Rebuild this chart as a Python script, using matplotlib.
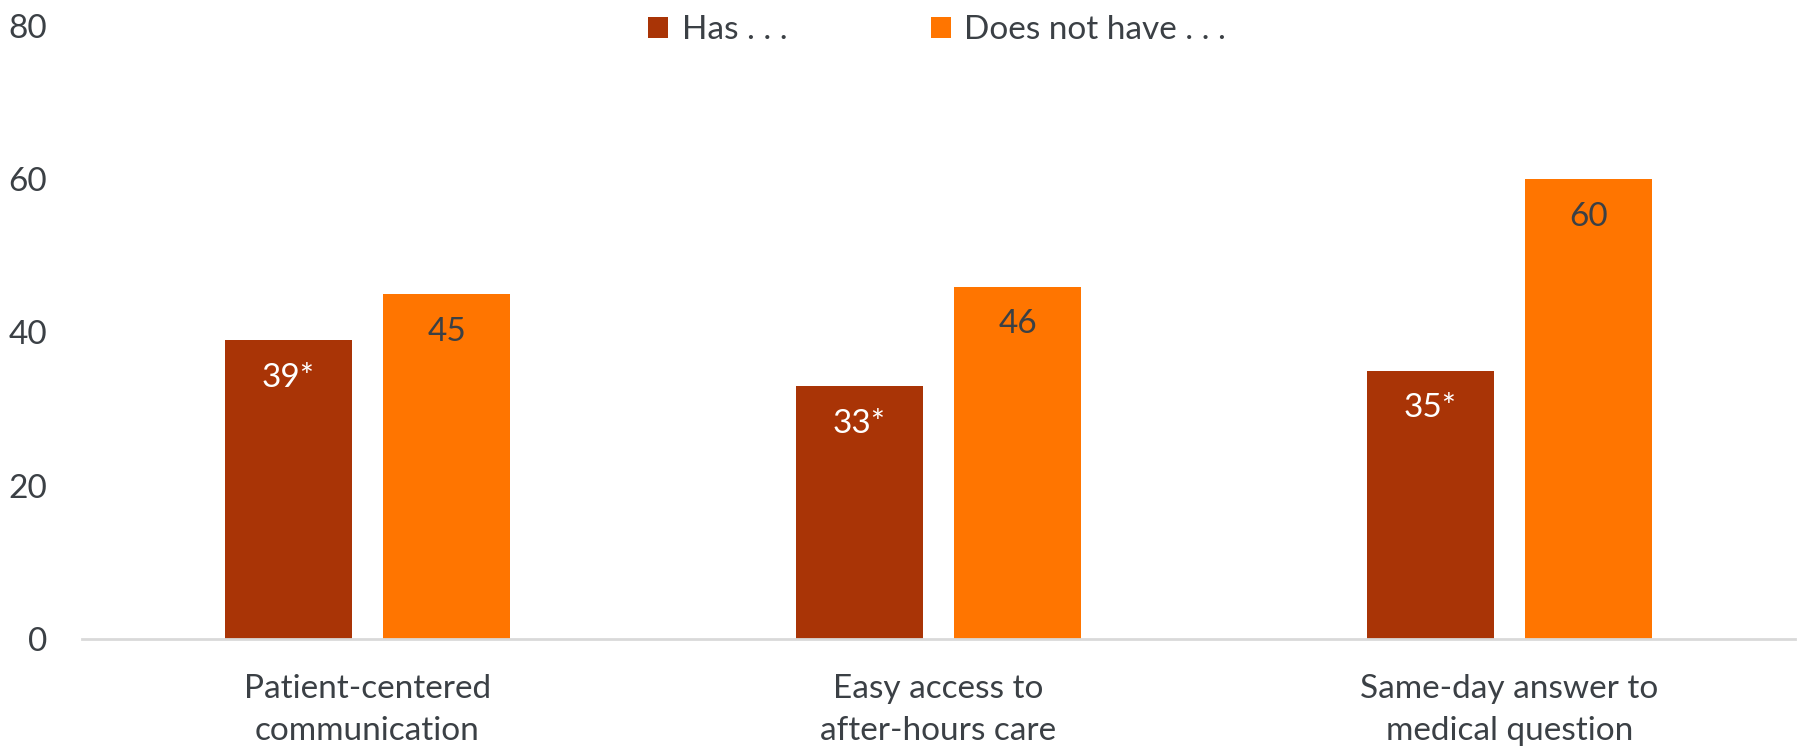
import numpy as np
import matplotlib
matplotlib.use("Agg")
import matplotlib.pyplot as plt

plt.rcParams['font.family'] = ['Lato', 'DejaVu Sans']

categories = ['Patient-centered\ncommunication', 'Easy access to\nafter-hours care',
              'Same-day answer to\nmedical question']
has_values = [39, 33, 35]
has_labels = ['39*', '33*', '35*']
hasnot_values = [45, 46, 60]
hasnot_labels = ['45', '46', '60']
series_names = ['Has . . .', 'Does not have . . .']
yticks = [0, 20, 40, 60, 80]

dark = '#A93406'
orange = '#FF7500'
text_col = '#3B4045'

fig = plt.figure(figsize=(17.97, 7.49), dpi=100)
ax = fig.add_axes([82 / 1797, 110 / 749, 1713 / 1797, 613 / 749])

x = np.arange(len(categories))
width = 0.222
offset = 0.139

b1 = ax.bar(x - offset, has_values, width, color=dark, label=series_names[0])
b2 = ax.bar(x + offset, hasnot_values, width, color=orange, label=series_names[1])

# value labels sit just inside the top of each bar
for bars, labels, col in [(b1, has_labels, 'white'), (b2, hasnot_labels, text_col)]:
    for rect, lab in zip(bars, labels):
        ax.annotate(lab, (rect.get_x() + rect.get_width() / 2, rect.get_height()),
                    xytext=(0, -27), textcoords='offset points',
                    ha='center', va='center', fontsize=24, color=col)

ax.set_xlim(-0.5, len(categories) - 0.5)
ax.set_ylim(0, 80)
ax.set_yticks(yticks)
ax.set_xticks(x)
ax.set_xticklabels(categories, fontsize=24, color=text_col, linespacing=1.52)
ax.tick_params(axis='y', labelsize=24, labelcolor=text_col, length=0, pad=25)
ax.tick_params(axis='x', length=0, pad=25)
for lab in ax.get_yticklabels():
    lab.set_horizontalalignment('right')

for side in ['top', 'right', 'left']:
    ax.spines[side].set_visible(False)
ax.spines['bottom'].set_color('#D9D9D9')
ax.spines['bottom'].set_linewidth(2)

leg = fig.legend(loc='center', bbox_to_anchor=(937 / 1797, 1 - 30 / 749), ncol=2,
                 frameon=False, fontsize=24, handlelength=0.6, handleheight=0.6,
                 handletextpad=0.4, columnspacing=4.3)
for t in leg.get_texts():
    t.set_color(text_col)

fig.savefig('out.png', dpi=100, facecolor='white')
